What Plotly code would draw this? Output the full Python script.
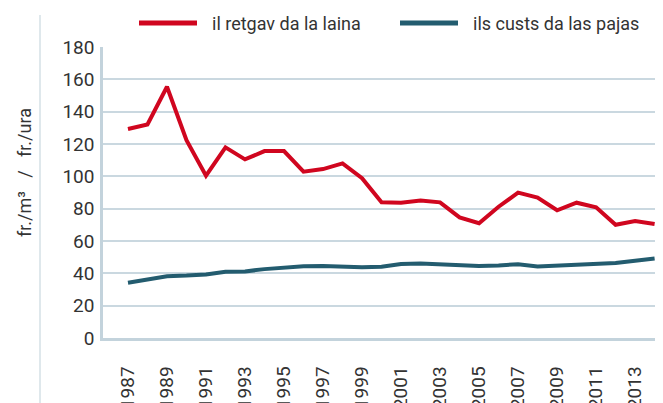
import plotly.graph_objects as go

years = list(range(1987, 2015))
retgav_laina = [129.3, 132.1, 155.4, 122.4, 100.4, 117.9, 110.5, 115.6, 115.6, 102.9,
                104.5, 108.0, 98.8, 83.9, 83.7, 85.0, 83.9, 74.6, 71.0, 81.2,
                89.9, 86.8, 79.0, 83.7, 80.8, 70.0, 72.4, 70.5]
custs_pajas = [34.2, 36.2, 38.2, 38.6, 39.3, 41.0, 41.2, 42.6, 43.5, 44.4,
               44.6, 44.1, 43.7, 44.1, 45.8, 46.1, 45.6, 45.2, 44.6, 44.9,
               45.6, 44.2, 44.8, 45.1, 45.4, 46.4, 47.8, 49.2]
series_names = ["il retgav da la laina", "ils custs da las pajas"]
series_colors = ["#d0061f", "#235c6f"]
xtick_vals = list(range(1987, 2014, 2))
xtick_text = [str(y) for y in xtick_vals]
ytick_vals = list(range(0, 181, 20))
y_title = "fr./m³\u00a0\u00a0\u00a0/\u00a0\u00a0\u00a0fr./ura"

font_family = "Roboto, Liberation Sans, sans-serif"
grid_color = "#cad8e0"

# page body has an 8px margin: work in page coordinates, convert to figure coords
OFF = 8
FW, FH = 663 - OFF, 403 - OFF
L, T, B, R = 103, 47, 338, 663
W, H = R - L, B - T

def px(x):
    return (x - L) / W

def py(y):
    return (B - y) / H

fig = go.Figure()
for name, vals, col in zip(series_names, [retgav_laina, custs_pajas], series_colors):
    fig.add_trace(go.Scatter(x=years, y=vals, name=name, mode="lines",
                             line=dict(color=col, width=4), showlegend=False))

# manual legend
leg_x = [139, 400]
for name, col, lx in zip(series_names, series_colors, leg_x):
    fig.add_shape(type="line", xref="paper", yref="paper",
                  x0=px(lx), x1=px(lx + 58), y0=py(23), y1=py(23),
                  line=dict(color=col, width=5))
    fig.add_annotation(xref="paper", yref="paper", x=px(lx + 71), y=py(23),
                       text=name, showarrow=False, xanchor="left", yanchor="middle",
                       font=dict(family=font_family, size=18, color="#333333"))

# y-axis title
fig.add_annotation(xref="paper", yref="paper", x=px(24), y=py(173), text=y_title,
                   textangle=-90, showarrow=False, xanchor="center", yanchor="middle",
                   font=dict(family=font_family, size=18, color="#333333"))

# left decorative line
fig.add_shape(type="line", xref="paper", yref="paper",
              x0=px(40), x1=px(40), y0=py(410), y1=py(15),
              line=dict(color="#d5e0e6", width=1.5))

fig.update_layout(
    width=FW, height=FH,
    margin=dict(l=L - OFF, r=0, t=T - OFF, b=FH - (B - OFF)),
    paper_bgcolor="white", plot_bgcolor="white",
    font=dict(family=font_family, size=19, color="#333333"),
    xaxis=dict(range=[1985.72, 2014.43], tickvals=xtick_vals, ticktext=xtick_text,
               tickangle=-90, showgrid=False, showline=True, linecolor="#c3d3dc",
               linewidth=2.5, ticks="outside", ticklen=18, tickcolor="rgba(0,0,0,0)",
               zeroline=False, automargin=False, tickfont=dict(size=19)),
    yaxis=dict(range=[0, 180], tickvals=ytick_vals, showgrid=True, gridcolor=grid_color,
               gridwidth=1.5, showline=True, linecolor="#c3d3dc", linewidth=2.5,
               ticks="outside", ticklen=2, tickcolor="rgba(0,0,0,0)", zeroline=False,
               automargin=False, tickfont=dict(size=19)),
)

fig.write_html("out.html")
